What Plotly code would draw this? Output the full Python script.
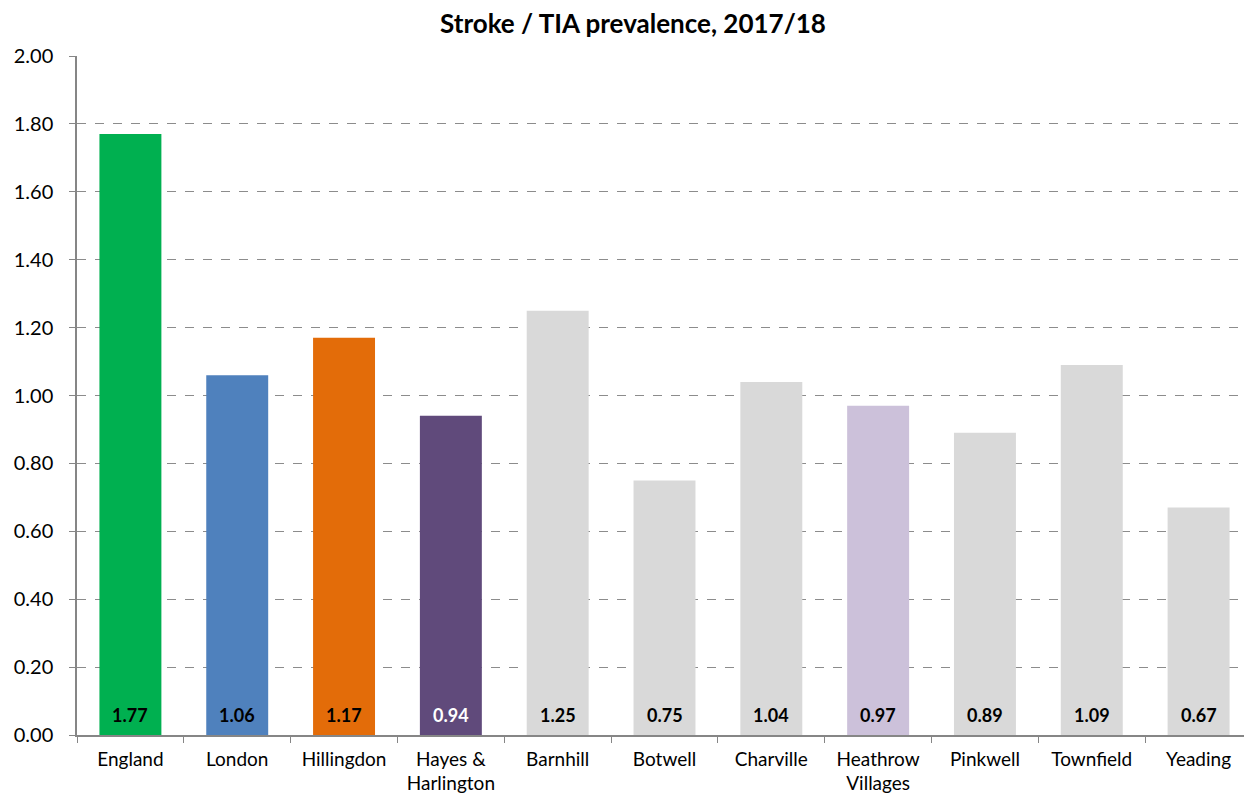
import plotly.graph_objects as go

categories = ["England", "London", "Hillingdon", "Hayes &<br>Harlington", "Barnhill", "Botwell",
              "Charville", "Heathrow<br>Villages", "Pinkwell", "Townfield", "Yeading"]
values = [1.77, 1.06, 1.17, 0.94, 1.25, 0.75, 1.04, 0.97, 0.89, 1.09, 0.67]
colors = ["#00B050", "#4F81BD", "#E36C09", "#604A7B", "#D9D9D9", "#D9D9D9",
          "#D9D9D9", "#CCC1DA", "#D9D9D9", "#D9D9D9", "#D9D9D9"]
label_colors = ["black", "black", "black", "white", "black", "black",
                "black", "black", "black", "black", "black"]
yticks = [0, 0.2, 0.4, 0.6, 0.8, 1.0, 1.2, 1.4, 1.6, 1.8, 2.0]

FONT = "Lato, 'Open Sans', sans-serif"

fig = go.Figure()
fig.add_trace(go.Bar(x=categories, y=values, marker=dict(color=colors, line=dict(width=0)),
                     width=0.58, hoverinfo="x+y"))

for c, v, lc in zip(categories, values, label_colors):
    fig.add_annotation(x=c, y=0, text="<b>%.2f</b>" % v, showarrow=False,
                       yanchor="bottom", yshift=7,
                       font=dict(family=FONT, size=18, color=lc))

fig.update_layout(
    width=1244, height=788,
    margin=dict(l=69, r=0, t=48, b=61, autoexpand=False),
    paper_bgcolor="white", plot_bgcolor="white",
    title=dict(text="<b>Stroke / TIA prevalence, 2017/18</b>", x=0.5024, xanchor="center",
               y=0.98, yanchor="middle", font=dict(family=FONT, size=26, color="black")),
    showlegend=False,
    bargap=0.42,
    font=dict(family=FONT, color="black"),
)
fig.update_xaxes(showline=True, linecolor="#868686", linewidth=1.5, ticks="outside",
                 tickson="boundaries", ticklen=6, tickcolor="#868686", automargin=False,
                 ticklabelstandoff=6,
                 tickfont=dict(family=FONT, size=19, color="black"), showgrid=False)
fig.update_yaxes(range=[0, 2.0], tickvals=yticks, ticktext=["%.2f" % t for t in yticks],
                 showline=True, linecolor="#868686", linewidth=1.5, ticks="outside",
                 ticklen=6, tickcolor="#868686", automargin=False, ticklabelstandoff=12,
                 showgrid=True, gridcolor="#8C8C8C", griddash="dash", gridwidth=1,
                 tickfont=dict(family=FONT, size=20, color="black"), zeroline=False)

fig.write_html("out.html")
